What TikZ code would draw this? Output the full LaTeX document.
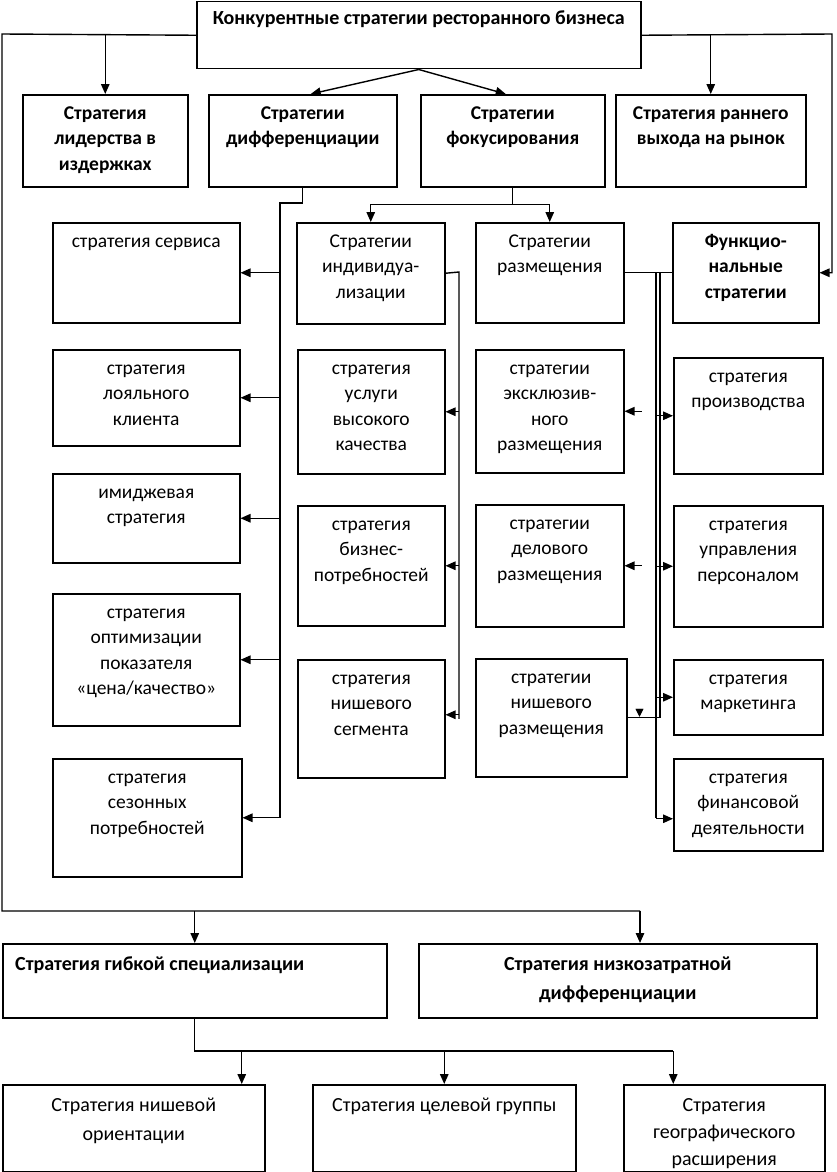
\documentclass[tikz,border=0pt]{standalone}
\usepackage{fontspec}
\setmainfont{Carlito}
\usetikzlibrary{arrows.meta}
\newcommand\fst{\rule{0pt}{14pt}}
\tikzset{
 x=1pt,y=-1pt,
 box/.style={draw, line width=1.5pt, inner sep=0pt, anchor=north west},
 ln/.style={line width=1.4pt},
 arr/.style={line width=1.4pt, -{Triangle[length=10pt,width=8.5pt]}},
 txt/.style={anchor=north, align=center, inner sep=0pt, font=\fontsize{19.5}{25.5}\selectfont},
 btxt/.style={txt, font=\fontsize{19.5}{25.5}\selectfont\bfseries},
 htxt/.style={txt, font=\fontsize{20}{25}\selectfont\bfseries},
 gtxt/.style={txt, font=\fontsize{20}{29}\selectfont\bfseries},
 ltxt/.style={txt, font=\fontsize{20}{29}\selectfont},
}
\newcommand\bx[5]{\node[box,minimum width={#4-#2},minimum height={#5-#3}] (#1) at (#2,#3) {};}
\newcommand\tx[3][txt]{\node[#1] at ([yshift=-11pt]#2.north) {\fst #3};}
\begin{document}
\begin{tikzpicture}
\useasboundingbox (0,0) rectangle (837,1172);
% boxes
\bx{T}{196}{1}{640}{68}
\bx{L1}{22}{94}{187}{186}
\bx{R2}{208}{94}{396}{186}
\bx{R3}{420}{94}{604}{186}
\bx{R4}{615}{94}{805}{186}
\bx{A1}{52}{222}{239}{322}
\bx{A2}{52}{349}{239}{445}
\bx{A3}{52}{473}{239}{562}
\bx{A4}{52}{593}{239}{725}
\bx{A5}{52}{758}{241}{876}
\bx{B1}{296}{222}{444}{323}
\bx{B2}{297}{349}{444}{473}
\bx{B3}{297}{505}{444}{625}
\bx{B4}{297}{659}{444}{777}
\bx{C1}{475}{222}{623}{322}
\bx{C2}{475}{349}{623}{472}
\bx{C3}{475}{504}{623}{626}
\bx{C4}{475}{658}{626}{776}
\bx{F}{672}{222}{818}{322}
\bx{D1}{673}{357}{822}{473}
\bx{D2}{673}{505}{822}{626}
\bx{D3}{673}{659}{822}{734}
\bx{D4}{673}{758}{822}{850}
\bx{G1}{2}{943}{386}{1017}
\bx{G2}{418}{943}{816}{1017}
\bx{H1}{2}{1084}{264}{1171}
\bx{H2}{312}{1084}{575}{1171}
\bx{H3}{623}{1084}{824}{1171}
% texts
\node[htxt] at ([yshift=-9pt]T.north) {\fst Конкурентные стратегии ресторанного бизнеса};
\tx[btxt]{L1}{Стратегия\\лидерства в\\издержках}
\tx[btxt]{R2}{Стратегии\\дифференциации}
\tx[btxt]{R3}{Стратегии\\фокусирования}
\tx[btxt]{R4}{Стратегия раннего\\выхода на рынок}
\tx{A1}{стратегия сервиса}
\tx{A2}{стратегия\\лояльного\\клиента}
\tx{A3}{имиджевая\\стратегия}
\tx{A4}{стратегия\\оптимизации\\показателя\\«цена/качество»}
\tx{A5}{стратегия\\сезонных\\потребностей}
\tx{B1}{Стратегии\\индивидуа-\\лизации}
\tx{B2}{стратегия\\услуги\\высокого\\качества}
\tx{B3}{стратегия\\бизнес-\\потребностей}
\tx{B4}{стратегия\\нишевого\\сегмента}
\tx{C1}{Стратегии\\размещения}
\tx{C2}{стратегии\\эксклюзив-\\ного\\размещения}
\tx{C3}{стратегии\\делового\\размещения}
\tx{C4}{стратегии\\нишевого\\размещения}
\tx[btxt]{F}{Функцио-\\нальные\\стратегии}
\tx{D1}{стратегия\\производства}
\tx{D2}{стратегия\\управления\\персоналом}
\tx{D3}{стратегия\\маркетинга}
\tx{D4}{стратегия\\финансовой\\деятельности}
\node[gtxt, anchor=north west, align=left] at ([xshift=13pt,yshift=-13pt]G1.north west) {\fst Стратегия гибкой специализации};
\node[gtxt] at ([yshift=-13pt]G2.north) {\fst Стратегия низкозатратной\\дифференциации};
\node[ltxt] at ([yshift=-13pt]H1.north) {\fst Стратегия нишевой\\ориентации};
\node[ltxt] at ([yshift=-13pt]H2.north) {\fst Стратегия целевой группы};
\node[ltxt, font=\fontsize{20}{27}\selectfont] at ([yshift=-13pt]H3.north) {\fst Стратегия\\географического\\расширения};
% connectors: top
\coordinate (cL) at (2,34);
\coordinate (cR) at (832,34);
\coordinate (cB) at (640,911);
\draw[ln] (T.west) -- (cL) |- (cB);
\draw[arr] (L1.north |- T.west) -- (L1.north);
\draw[arr] (T.east) -- (cR) |- (F.east);
\draw[arr] (R4.north |- T.east) -- (R4.north);
\draw[arr] (T.south) -- ([xshift=8pt]R2.north);
\draw[arr] (T.south) -- ([xshift=-7pt]R3.north);
% differentiation trunk
\coordinate (dT) at (280,203);
\draw[ln] (R2.south) |- (dT) -- (dT |- A5.east);
\foreach \n in {A1,A2,A3,A4,A5} \draw[arr] (dT |- \n.east) -- (\n.east);
% focus
\draw[arr] (R3.south) -- ++(0,17) -| (B1.north);
\draw[arr] (R3.south) -- ++(0,17) -| (C1.north);
% individualisation trunk
\coordinate (iT) at (459,272);
\draw[ln] (B1.east) -- (iT) -- (iT |- B4.east);
\foreach \n in {B2,B3} \draw[arr] (iT |- \n.east) -- (\n.east);
\draw[arr] ([yshift=4pt]iT |- B4.east) -- ([yshift=4pt]B4.east);
% placement / functional
\coordinate (pA) at (656,272);
\coordinate (pB) at (660,272);
\draw[ln] (C1.east) -- (F.west);
\draw[ln] (pA) -- (pA |- 0,818);
\draw[ln] (pB) -- (pB |- C4.east) -- (C4.east);
\foreach \n in {D1,D2,D3} \draw[arr] (pA |- \n.west) -- (\n.west);
\draw[arr] ([yshift=-14pt]pA |- D4.west) -- ([yshift=-14pt]D4.west);
\draw[arr] ([xshift=17pt]C2.east) -- (C2.east);
\draw[arr] ([xshift=17pt]C3.east) -- (C3.east);
\draw[-{Triangle[length=8pt,width=8pt]}] ([xshift=12pt,yshift=9pt]C4.east) -- ([xshift=12pt,yshift=1pt]C4.east);
% bottom
\draw[arr] (G1.north |- cB) -- (G1.north);
\draw[arr] (cB) -- (cB |- G2.north);
\coordinate (bJ) at (673,1051);
\draw[ln] (G1.south) |- (bJ);
\draw[arr] ([xshift=108pt]H1.north |- bJ) -- ([xshift=108pt]H1.north);
\draw[arr] (H2.north |- bJ) -- (H2.north);
\draw[arr] ([xshift=-51pt]H3.north |- bJ) -- ([xshift=-51pt]H3.north);
\end{tikzpicture}
\end{document}
